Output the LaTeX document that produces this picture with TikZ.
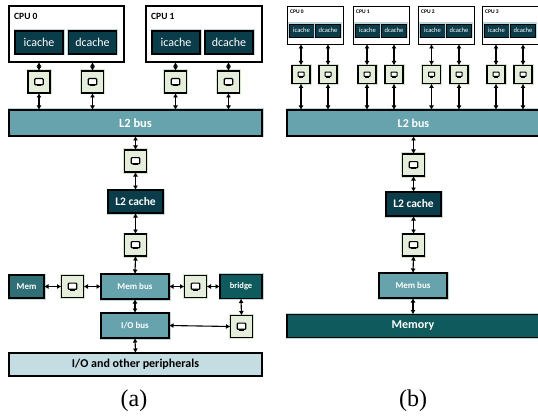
\documentclass[tikz,border=0pt]{standalone}
\usepackage{fontspec}
\setmainfont{Liberation Serif}
\newfontfamily\boxfont{Carlito}
\usetikzlibrary{arrows.meta}
\definecolor{dark}{HTML}{0B3C49}
\definecolor{teal}{HTML}{66A3AD}
\definecolor{deep}{HTML}{0F5A5C}
\definecolor{memc}{HTML}{2F6F75}
\definecolor{pale}{HTML}{C3DDE3}
\definecolor{rout}{HTML}{E4EEDA}
\definecolor{glowg}{HTML}{D5E6C8}
\definecolor{glowb}{HTML}{BFD8DC}
\tikzset{
  x=1pt,y=-1pt,
  boxbase/.style={anchor=center,inner sep=0,outer sep=0,font=\boxfont\bfseries,text=white,draw=black,line width=1.4pt,
     preaction={draw=glowb,line width=3pt}},
  cpubox/.style={anchor=center,draw=black,fill=white,line width=1.3pt,inner sep=0,outer sep=0},
  cpulab/.style={font=\boxfont\bfseries,text=black,anchor=west,inner sep=0},
  cachea/.style={boxbase,fill=dark,font=\boxfont\fontsize{12}{12}\selectfont,minimum width=48pt,minimum height=23pt},
  cacheb/.style={boxbase,fill=dark,font=\boxfont\fontsize{6.6}{7}\selectfont,minimum width=25pt,minimum height=13pt,line width=.6pt,preaction={draw=glowb,line width=1.6pt}},
  routbox/.style={anchor=center,draw=black,fill=rout,line width=1.2pt,minimum size=#1,inner sep=0,outer sep=0,preaction={draw=glowg,line width=3pt}},
  routbox/.default=22pt,
  biarrow/.style={{Latex[length=4.5pt,width=5pt]}-{Latex[length=4.5pt,width=5pt]},line width=1.1pt,black},
  sub/.style={font=\fontsize{24}{24}\selectfont,inner sep=0,anchor=center}
}
\newcommand{\monitor}[2]{%
  \fill[black] (#1-2.2,#2+3) rectangle (#1+2.2,#2+4.4);
  \draw[black,fill=white,line width=1.2pt,rounded corners=.8pt] (#1-4.2,#2-3.4) rectangle (#1+4.2,#2+2.8);}
\newcommand{\monitorsmall}[2]{%
  \fill[black] (#1-1.6,#2+2) rectangle (#1+1.6,#2+3.2);
  \draw[black,fill=white,line width=1pt,rounded corners=.6pt] (#1-3,#2-2.4) rectangle (#1+3,#2+2);}
\begin{document}
\begin{tikzpicture}
\useasboundingbox (0,0) rectangle (538,417);
% ---- (a)
\node[cpubox,minimum width=115pt,minimum height=56pt] (cpua0) at (66.5,34) {};
\node[cpubox,minimum width=116pt,minimum height=56pt] (cpua1) at (204,34) {};
\node[cpulab,font=\boxfont\bfseries\fontsize{9.5}{10}\selectfont] (la0) at (14,16) {CPU 0};
\node[cpulab,font=\boxfont\bfseries\fontsize{9.5}{10}\selectfont] (la1) at (151,16) {CPU 1};
\node[cachea] (ai0) at (39,42.5) {icache};
\node[cachea] (ad0) at (92.5,42.5) {dcache};
\node[cachea] (ai1) at (176,42.5) {icache};
\node[cachea] (ad1) at (229,42.5) {dcache};
\node[routbox] (ra1) at (39,82) {};
\node[routbox] (ra2) at (92.5,82) {};
\node[routbox] (ra3) at (175.5,82) {};
\node[routbox] (ra4) at (228.5,82) {};
\node[boxbase,fill=teal,minimum width=253pt,minimum height=26pt,font=\boxfont\bfseries\fontsize{12.5}{13}\selectfont] (l2a) at (135.5,123) {L2 bus};
\node[routbox] (ra5) at (135.5,161) {};
\node[boxbase,fill=dark,minimum width=55pt,minimum height=23pt,font=\boxfont\bfseries\fontsize{11.5}{12}\selectfont] (ca) at (135.5,201.5) {L2 cache};
\node[routbox] (ra6) at (135.5,245) {};
\node[boxbase,fill=teal,minimum width=68pt,minimum height=25pt,font=\boxfont\bfseries\fontsize{9}{10}\selectfont] (mba) at (135,286.5) {Mem bus};
\node[boxbase,fill=memc,minimum width=35pt,minimum height=23pt,font=\boxfont\bfseries\fontsize{9}{10}\selectfont] (mema) at (26.5,286.5) {Mem};
\node[routbox] (ra7) at (72.5,286.5) {};
\node[routbox] (ra8) at (195.5,286.5) {};
\node[boxbase,fill=deep,minimum width=42pt,minimum height=24pt,font=\boxfont\bfseries\fontsize{8.5}{9}\selectfont] (bra) at (241,286.5) {bridge};
\node[boxbase,fill=teal,minimum width=68pt,minimum height=25pt,font=\boxfont\bfseries\fontsize{9}{10}\selectfont] (ioa) at (135,325.5) {I/O bus};
\node[routbox] (ra9) at (241.5,326.5) {};
\node[draw=black,line width=1.3pt,inner sep=0,outer sep=0,fill=pale,minimum width=253pt,minimum height=23pt,font=\boxfont\bfseries\fontsize{12}{13}\selectfont,text=black] (pera) at (135.5,364.5) {I/O and other peripherals};
\node[sub] (capa) at (134,401) {(a)};
\foreach \n/\x/\y in {ra1/39/82,ra2/92.5/82,ra3/175.5/82,ra4/228.5/82,ra5/135.5/161,ra6/135.5/245,ra7/72.5/286.5,ra8/195.5/286.5,ra9/241.5/326.5}{\monitor{\x}{\y}}
\foreach \c/\r in {ai0/ra1,ad0/ra2,ai1/ra3,ad1/ra4}{
  \draw[biarrow] (\r.north |- cpua0.south) -- (\r.north);
  \draw[biarrow] (\r.south) -- (\r.south |- l2a.north);
}
\draw[biarrow] (l2a.south) -- (ra5.north);
\draw[biarrow] (ra5.south) -- (ca.north);
\draw[biarrow] (ca.south) -- (ra6.north);
\draw[biarrow] (ra6.south) -- (mba.north);
\draw[biarrow] (mema.east) -- (ra7.west);
\draw[biarrow] (ra7.east) -- (mba.west);
\draw[biarrow] (mba.east) -- (ra8.west);
\draw[biarrow] (ra8.east) -- (bra.west);
\draw[biarrow] (mba.south) -- (ioa.north);
\draw[biarrow] (ioa.south) -- (pera.north);
\draw[biarrow] (bra.south) -- (ra9.north);
\draw[biarrow] (ioa.east) -- (ra9.west);
% ---- (b)
\foreach \i/\x in {0/315,1/381,2/446,3/510}{
  \node[cpubox,minimum width=56pt,minimum height=38pt,line width=.9pt] (cb\i) at (\x,25) {};
  \node[cpulab,font=\boxfont\bfseries\fontsize{5.5}{6}\selectfont] (lb\i) at (\x-25,12) {CPU \i};
  \node[cacheb] (ib\i) at (\x-13.5,30.5) {icache};
  \node[cacheb] (db\i) at (\x+13,30.5) {dcache};
}
\node[routbox=18pt] (rb1) at (301,74.5) {};
\node[routbox=18pt] (rb2) at (328,74.5) {};
\node[routbox=18pt] (rb3) at (367,74.5) {};
\node[routbox=18pt] (rb4) at (394,74.5) {};
\node[routbox=18pt] (rb5) at (431.5,74.5) {};
\node[routbox=18pt] (rb6) at (459,74.5) {};
\node[routbox=18pt] (rb7) at (496,74.5) {};
\node[routbox=18pt] (rb8) at (523,74.5) {};
\foreach \x in {301,328,367,394,431.5,459,496,523}{\monitorsmall{\x}{74.5}}
\node[boxbase,fill=teal,minimum width=253pt,minimum height=26pt,font=\boxfont\bfseries\fontsize{12}{13}\selectfont] (l2b) at (413.5,123) {L2 bus};
\foreach \r in {rb1,rb2,rb3,rb4,rb5,rb6,rb7,rb8}{
  \draw[biarrow] (\r.north |- cb0.south) -- (\r.north);
  \draw[biarrow] (\r.south) -- (\r.south |- l2b.north);
}
\node[routbox] (rb9) at (413.5,165) {};
\node[boxbase,fill=dark,minimum width=55pt,minimum height=24pt,font=\boxfont\bfseries\fontsize{11.5}{12}\selectfont] (cb) at (413.5,204) {L2 cache};
\node[routbox] (rb10) at (413.5,245) {};
\node[boxbase,fill=teal,minimum width=68pt,minimum height=25pt,font=\boxfont\bfseries\fontsize{9}{10}\selectfont] (mbb) at (413,285.5) {Mem bus};
\node[boxbase,fill=deep,minimum width=252pt,minimum height=23pt,font=\boxfont\bfseries\fontsize{12}{13}\selectfont] (memb) at (413,326) {Memory};
\node[sub] (capb) at (413,401) {(b)};
\monitor{413.5}{165}
\monitor{413.5}{245}
\draw[biarrow] (l2b.south) -- (rb9.north);
\draw[biarrow] (rb9.south) -- (cb.north);
\draw[biarrow] (cb.south) -- (rb10.north);
\draw[biarrow] (rb10.south) -- (mbb.north);
\draw[biarrow] (mbb.south) -- (memb.north);
\end{tikzpicture}
\end{document}
